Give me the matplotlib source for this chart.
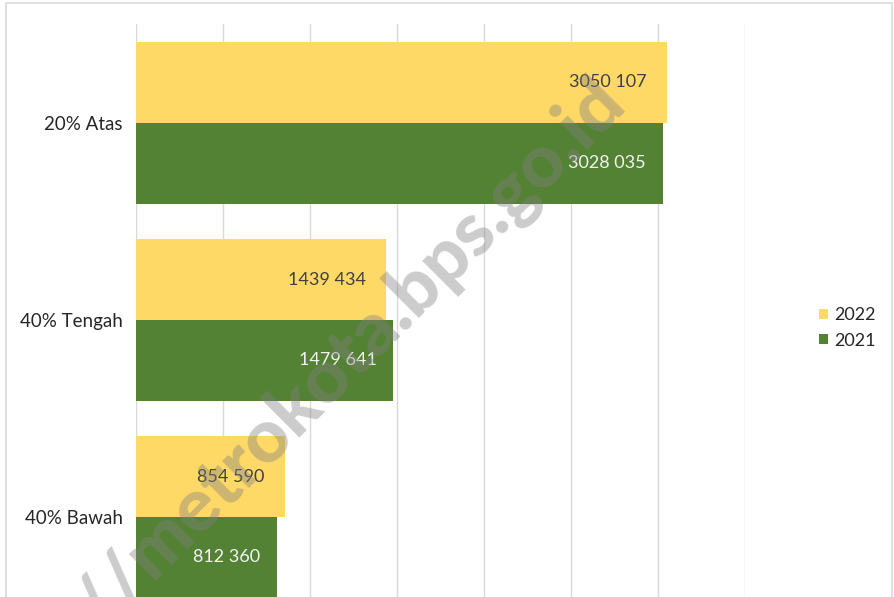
import matplotlib
matplotlib.use('Agg')
import matplotlib.pyplot as plt
from matplotlib.patches import Rectangle
import numpy as np

plt.rcParams['font.family'] = ['Lato', 'DejaVu Sans']

categories = ['20% Atas', '40% Tengah', '40% Bawah']
values_2022 = [3050107, 1439434, 854590]
values_2021 = [3028035, 1479641, 812360]

col_2022 = '#FFD966'
col_2021 = '#548235'


def fmt(v):
    return f'{v // 1000} {v % 1000:03d}'


fig = plt.figure(figsize=(8.94, 5.97), dpi=100)
ax = fig.add_axes([136 / 894, -0.031, 609 / 894, 0.990])

y = np.arange(len(categories))
h = 0.411
bars_22 = ax.barh(y - h / 2, values_2022, height=h, color=col_2022, label='2022', zorder=2)
bars_21 = ax.barh(y + h / 2, values_2021, height=h, color=col_2021, label='2021', zorder=2)

for b, v in zip(bars_22, values_2022):
    ax.annotate(fmt(v), (b.get_width(), b.get_y() + b.get_height() / 2),
                xytext=(-20, 0), textcoords='offset pixels', ha='right', va='center',
                fontsize=13, color='#404040', zorder=3)
for b, v in zip(bars_21, values_2021):
    ax.annotate(fmt(v), (b.get_width(), b.get_y() + b.get_height() / 2),
                xytext=(-17, 0), textcoords='offset pixels', ha='right', va='center',
                fontsize=13, color='#F2F2F2', zorder=3)

ax.set_xlim(0, 3500000)
ax.set_ylim(2.5, -0.5)
ax.set_xticks(np.arange(0, 3500001, 500000))
ax.xaxis.grid(True, color='#D9D9D9', linewidth=1, zorder=0)
ax.set_axisbelow(True)
ax.tick_params(axis='x', length=0, labelbottom=False)
ax.tick_params(axis='y', length=0, pad=9.5, labelsize=13.5, labelcolor='#262626')
ax.set_yticks(y)
ax.set_yticklabels(categories)
for s in ax.spines.values():
    s.set_visible(False)

fig.legend(handles=[bars_22, bars_21], loc='center left',
           bbox_to_anchor=(803 / 894, 1 - 328 / 597), frameon=False,
           fontsize=13, handlelength=0.5, handleheight=0.5,
           handletextpad=0.35, labelspacing=0.5, labelcolor='#262626')

fig.patches.append(Rectangle((6 / 894, -0.1), 886 / 894, 1.1 - 3 / 597,
                             transform=fig.transFigure, fill=False,
                             edgecolor='#D9D9D9', linewidth=1.2))

# watermark
fig.text(628 / 894, 1 - 105 / 597, 'https://metrokota.bps.go.id', rotation=45,
         rotation_mode='anchor', ha='right', va='baseline', fontsize=54,
         fontweight='black', color='#808080', alpha=0.4, zorder=10)

fig.savefig('out.png', dpi=100)
